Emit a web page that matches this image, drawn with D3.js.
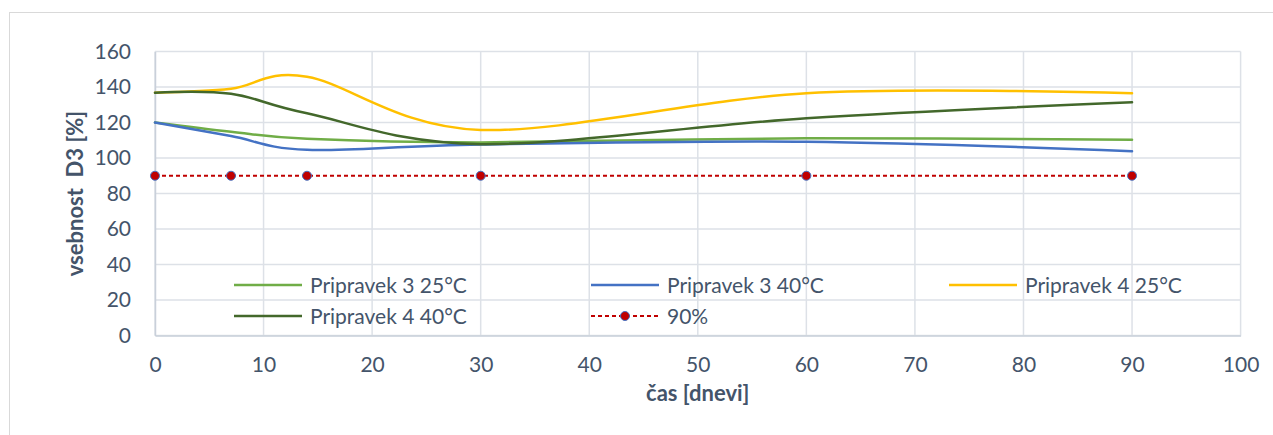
<!DOCTYPE html>
<html>
<head>
<meta charset="utf-8">
<script src="https://cdn.jsdelivr.net/npm/d3@7"></script>
<style>
  html, body { margin: 0; padding: 0; background: #fff; }
  svg { display: block; font-family: Lato, "Open Sans", sans-serif; }
</style>
</head>
<body>
<svg id="chart" width="1273" height="435"></svg>
<script>
// Sampling days and measured D3 content [%] per preparation/temperature
const days = [0, 7, 14, 30, 60, 90];
const pripravek3_25 = [120, 114.8, 110.8, 108.8, 111.1, 110.3];
const pripravek3_40 = [120, 112.4, 104.6, 107.6, 109.2, 103.8];
const pripravek4_25 = [136.8, 139.0, 145.8, 115.8, 136.5, 136.5];
const pripravek4_40 = [136.8, 136.2, 125.2, 107.8, 122.4, 131.4];
const limit90 = [90, 90, 90, 90, 90, 90];

const seriesNames = ["Pripravek 3 25°C", "Pripravek 3 40°C", "Pripravek 4 25°C", "Pripravek 4 40°C", "90%"];
const xTicks = [0, 10, 20, 30, 40, 50, 60, 70, 80, 90, 100];
const yTicks = [0, 20, 40, 60, 80, 100, 120, 140, 160];

const colors = ["#70AD47", "#4472C4", "#FFC000", "#43682B", "#C00000"];
const textColor = "#44546A";

const svg = d3.select("#chart");

// chart frame
svg.append("rect")
  .attr("x", 9.5).attr("y", 12.5)
  .attr("width", 1300).attr("height", 500)
  .attr("fill", "#fff").attr("stroke", "#D9D9D9").attr("stroke-width", 1);

const x = d3.scaleLinear().domain([0, 100]).range([155, 1240.6]);
const y = d3.scaleLinear().domain([0, 160]).range([335.5, 51.5]);

// gridlines
const grid = svg.append("g");
grid.selectAll("line.v").data(xTicks).join("line")
  .attr("x1", d => x(d)).attr("x2", d => x(d))
  .attr("y1", y(0)).attr("y2", y(160))
  .attr("stroke", "#DDE1E7").attr("stroke-width", 1.5);
grid.selectAll("line.h").data(yTicks).join("line")
  .attr("x1", x(0)).attr("x2", x(100))
  .attr("y1", d => y(d)).attr("y2", d => y(d))
  .attr("stroke", "#DDE1E7").attr("stroke-width", 1.5);

// axes
const xAxis = d3.axisBottom(x).tickValues(xTicks).tickSize(0).tickPadding(22);
const yAxis = d3.axisLeft(y).tickValues(yTicks).tickSize(0).tickPadding(24);

const gx = svg.append("g").attr("transform", `translate(0,${y(0)})`).call(xAxis);
const gy = svg.append("g").attr("transform", `translate(${x(0)},0)`).call(yAxis);
[gx, gy].forEach(g => {
  g.select(".domain").attr("stroke", "#C9D0DA").attr("stroke-width", 1.5);
  g.selectAll("text").attr("fill", textColor).attr("font-size", 21)
    .attr("font-family", "Lato, 'Open Sans', sans-serif");
});

// axis titles
svg.append("text")
  .attr("x", (x(0) + x(100)) / 2).attr("y", 401)
  .attr("text-anchor", "middle")
  .attr("fill", textColor).attr("font-size", 22).attr("font-weight", "bold")
  .text("čas [dnevi]");
svg.append("text")
  .attr("transform", `translate(83,${(y(0) + y(160)) / 2}) rotate(-90)`)
  .attr("text-anchor", "middle")
  .attr("fill", textColor).attr("font-size", 22).attr("font-weight", "bold")
  .attr("xml:space", "preserve")
  .text("vsebnost  D3 [%]");

// smoothed series lines
const line = d3.line()
  .x((d, i) => x(days[i]))
  .y(d => y(d))
  .curve(d3.curveCatmullRom.alpha(0));

const series = [pripravek3_25, pripravek3_40, pripravek4_25, pripravek4_40];
const plot = svg.append("g");
series.forEach((vals, k) => {
  plot.append("path")
    .datum(vals)
    .attr("d", line)
    .attr("fill", "none")
    .attr("stroke", colors[k])
    .attr("stroke-width", 2.5)
    .attr("stroke-linecap", "round");
});

// 90% limit line with markers
const straight = d3.line().x((d, i) => x(days[i])).y(d => y(d));
plot.append("path")
  .datum(limit90)
  .attr("d", straight)
  .attr("fill", "none")
  .attr("stroke", colors[4])
  .attr("stroke-width", 2)
  .attr("stroke-dasharray", "4,3");
plot.selectAll("circle.m").data(limit90).join("circle")
  .attr("cx", (d, i) => x(days[i]))
  .attr("cy", d => y(d))
  .attr("r", 4.5)
  .attr("fill", colors[4])
  .attr("stroke", "#4472C4").attr("stroke-width", 1);

// legend
const legendPos = [[234, 285], [591, 285], [949, 285], [234, 316], [591, 316]];
const legend = svg.append("g");
seriesNames.forEach((name, k) => {
  const [lx, ly] = legendPos[k];
  const g = legend.append("g").attr("transform", `translate(${lx},${ly})`);
  if (k < 4) {
    g.append("line").attr("x1", 0).attr("x2", 68).attr("y1", 0).attr("y2", 0)
      .attr("stroke", colors[k]).attr("stroke-width", 2.5);
  } else {
    g.append("line").attr("x1", 0).attr("x2", 68).attr("y1", 0).attr("y2", 0)
      .attr("stroke", colors[k]).attr("stroke-width", 2).attr("stroke-dasharray", "4,3");
    g.append("circle").attr("cx", 34).attr("cy", 0).attr("r", 4.5)
      .attr("fill", colors[k]).attr("stroke", "#4472C4").attr("stroke-width", 1);
  }
  g.append("text").attr("x", 76).attr("y", 0).attr("dy", "0.36em")
    .attr("fill", textColor).attr("font-size", 21)
    .text(name);
});
</script>
</body>
</html>
